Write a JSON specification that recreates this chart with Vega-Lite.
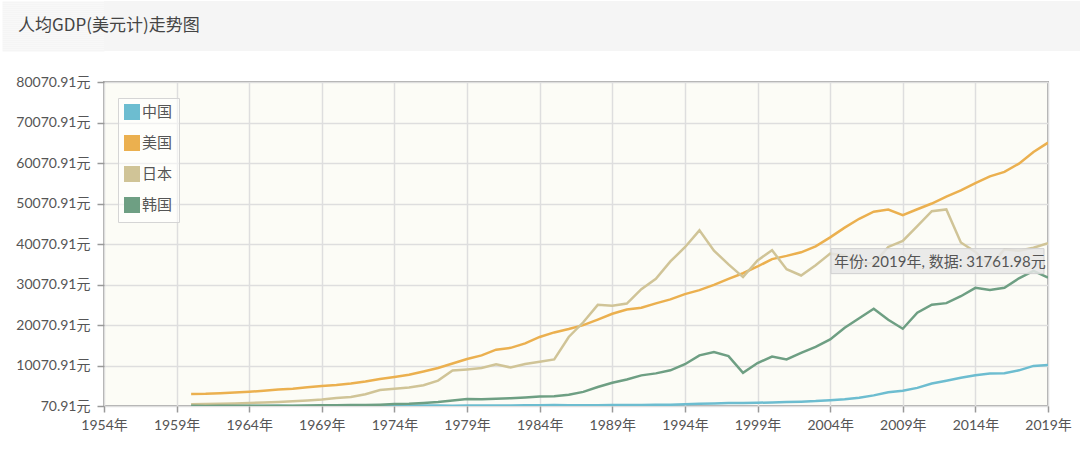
{
  "$schema": "https://vega.github.io/schema/vega-lite/v6.json",
  "padding": 0,
  "background": "white",
  "spacing": 22,
  "config": {"font": "Lato, Noto Sans CJK SC"},
  "datasets": {
    "gdp": [
      {"year": 1960, "中国": 89.52, "美国": 3007.12, "日本": 479.0, "韩国": 158.2},
      {"year": 1961, "中国": 75.81, "美国": 3066.56, "日本": 563.6, "韩国": 93.8},
      {"year": 1962, "中国": 70.91, "美国": 3243.84, "日本": 633.6, "韩国": 106.2},
      {"year": 1963, "中国": 74.31, "美国": 3374.52, "日本": 717.9, "韩国": 146.3},
      {"year": 1964, "中国": 85.5, "美国": 3573.94, "日本": 835.7, "韩国": 123.6},
      {"year": 1965, "中国": 98.49, "美国": 3827.53, "日本": 919.8, "韩国": 108.7},
      {"year": 1966, "中国": 104.32, "美国": 4146.32, "日本": 1058.5, "韩国": 133.5},
      {"year": 1967, "中国": 96.59, "美国": 4336.43, "日本": 1228.9, "韩国": 161.1},
      {"year": 1968, "中国": 91.47, "美国": 4695.92, "日本": 1450.6, "韩国": 198.5},
      {"year": 1969, "中国": 100.13, "美国": 5032.14, "日本": 1669.1, "韩国": 243.3},
      {"year": 1970, "中国": 113.16, "美国": 5234.3, "日本": 2037.6, "韩国": 279.1},
      {"year": 1971, "中国": 118.65, "美国": 5609.38, "日本": 2272.1, "韩国": 300.8},
      {"year": 1972, "中国": 131.88, "美国": 6094.02, "日本": 2967.0, "韩国": 323.9},
      {"year": 1973, "中国": 157.09, "美国": 6726.36, "日本": 3997.8, "韩国": 407.1},
      {"year": 1974, "中国": 160.14, "美国": 7225.69, "日本": 4353.8, "韩国": 563.3},
      {"year": 1975, "中国": 178.34, "美国": 7801.46, "日本": 4659.1, "韩国": 616.4},
      {"year": 1976, "中国": 165.41, "美国": 8592.25, "日本": 5197.8, "韩国": 834.1},
      {"year": 1977, "中国": 185.42, "美国": 9452.58, "日本": 6335.8, "韩国": 1055.9},
      {"year": 1978, "中国": 156.4, "美国": 10564.95, "日本": 8821.8, "韩国": 1399.8},
      {"year": 1979, "中国": 183.98, "美国": 11674.19, "日本": 9105.1, "韩国": 1783.9},
      {"year": 1980, "中国": 194.8, "美国": 12574.79, "日本": 9463.4, "韩国": 1715.4},
      {"year": 1981, "中国": 197.07, "美国": 13976.11, "日本": 10361.3, "韩国": 1883.5},
      {"year": 1982, "中国": 203.33, "美国": 14433.79, "日本": 9578.1, "韩国": 1992.6},
      {"year": 1983, "中国": 225.43, "美国": 15543.89, "日本": 10425.4, "韩国": 2198.9},
      {"year": 1984, "中国": 250.71, "美国": 17121.23, "日本": 10984.9, "韩国": 2413.3},
      {"year": 1985, "中国": 294.46, "美国": 18236.83, "日本": 11584.6, "韩国": 2482.4},
      {"year": 1986, "中国": 281.93, "美国": 19071.23, "日本": 17111.9, "韩国": 2834.9},
      {"year": 1987, "中国": 251.81, "美国": 20038.94, "日本": 20745.0, "韩国": 3554.6},
      {"year": 1988, "中国": 283.54, "美国": 21417.01, "日本": 25051.9, "韩国": 4748.6},
      {"year": 1989, "中国": 310.88, "美国": 22857.15, "日本": 24813.3, "韩国": 5817.0},
      {"year": 1990, "中国": 317.88, "美国": 23888.6, "日本": 25359.3, "韩国": 6610.0},
      {"year": 1991, "中国": 333.14, "美国": 24342.26, "日本": 28925.0, "韩国": 7637.1},
      {"year": 1992, "中国": 366.46, "美国": 25418.99, "日本": 31464.6, "韩国": 8126.7},
      {"year": 1993, "中国": 377.39, "美国": 26387.29, "日本": 35765.9, "韩国": 8884.9},
      {"year": 1994, "中国": 473.49, "美国": 27694.85, "日本": 39268.6, "韩国": 10385.3},
      {"year": 1995, "中国": 609.66, "美国": 28690.88, "日本": 43440.4, "韩国": 12564.8},
      {"year": 1996, "中国": 709.41, "美国": 29967.71, "日本": 38436.9, "韩国": 13403.0},
      {"year": 1997, "中国": 781.74, "美国": 31459.14, "日本": 35021.7, "韩国": 12398.5},
      {"year": 1998, "中国": 828.58, "美国": 32853.68, "日本": 31902.8, "韩国": 8281.7},
      {"year": 1999, "中国": 873.29, "美国": 34515.39, "日本": 36026.6, "韩国": 10672.4},
      {"year": 2000, "中国": 959.37, "美国": 36334.91, "日本": 38532.0, "韩国": 12256.9},
      {"year": 2001, "中国": 1053.11, "美国": 37133.24, "日本": 33846.5, "韩国": 11561.2},
      {"year": 2002, "中国": 1148.51, "美国": 38023.16, "日本": 32289.4, "韩国": 13165.1},
      {"year": 2003, "中国": 1288.64, "美国": 39496.49, "日本": 34808.4, "韩国": 14672.8},
      {"year": 2004, "中国": 1508.67, "美国": 41712.8, "日本": 37688.7, "韩国": 16496.1},
      {"year": 2005, "中国": 1753.42, "美国": 44114.75, "日本": 37217.6, "韩国": 19402.5},
      {"year": 2006, "中国": 2099.23, "美国": 46298.73, "日本": 35433.9, "韩国": 21743.5},
      {"year": 2007, "中国": 2693.97, "美国": 48050.22, "日本": 35275.2, "韩国": 24086.4},
      {"year": 2008, "中国": 3468.3, "美国": 48570.05, "日本": 39339.3, "韩国": 21350.4},
      {"year": 2009, "中国": 3832.24, "美国": 47194.94, "日本": 40855.2, "韩国": 19143.8},
      {"year": 2010, "中国": 4550.45, "美国": 48650.64, "日本": 44507.7, "韩国": 23087.2},
      {"year": 2011, "中国": 5618.13, "美国": 50065.97, "日本": 48168.0, "韩国": 25096.3},
      {"year": 2012, "中国": 6316.92, "美国": 51784.42, "日本": 48603.5, "韩国": 25466.8},
      {"year": 2013, "中国": 7050.65, "美国": 53291.13, "日本": 40454.4, "韩国": 27178.5},
      {"year": 2014, "中国": 7678.6, "美国": 55123.85, "日本": 38109.4, "韩国": 29253.2},
      {"year": 2015, "中国": 8066.94, "美国": 56762.73, "日本": 34524.5, "韩国": 28737.4},
      {"year": 2016, "中国": 8147.94, "美国": 57866.74, "日本": 38761.8, "韩国": 29274.2},
      {"year": 2017, "中国": 8879.44, "美国": 59914.78, "日本": 38386.5, "韩国": 31605.2},
      {"year": 2018, "中国": 9976.68, "美国": 62805.25, "日本": 39159.4, "韩国": 33447.2},
      {"year": 2019, "中国": 10216.63, "美国": 65094.8, "日本": 40246.9, "韩国": 31761.98}
    ],
    "tip": [
      {"year": 2019, "gdp": 31761.98, "label": "年份: 2019年, 数据: 31761.98元"}
    ]
  },
  "vconcat": [
    {
      "width": 977,
      "height": 50,
      "view": {"fill": "#f5f5f5", "stroke": null},
      "data": {"values": [{"title": "人均GDP(美元计)走势图"}]},
      "mark": {"type": "text", "align": "left", "baseline": "middle", "font": "Noto Sans CJK SC", "fontSize": 17, "color": "#444"},
      "encoding": {
        "text": {"field": "title", "type": "nominal"},
        "x": {"value": -86},
        "y": {
          "datum": 25, "type": "quantitative",
          "scale": {"domain": [0, 50], "nice": false, "zero": false},
          "axis": {"title": null, "values": [1, 3, 5, 7, 9, 11, 13, 15, 17, 19, 21, 23, 25, 27, 29, 31, 33, 35, 37, 39, 41, 43, 45, 47, 49], "labels": false, "domain": false, "grid": false, "ticks": true, "tickSize": 102, "tickWidth": 2.2, "tickColor": "#f5f5f5", "tickCap": "butt", "minExtent": 102}
        }
      }
    },
    {
      "width": 944,
      "height": 324,
      "view": {"fill": "#fcfcf6", "stroke": "#aaaaaa", "strokeWidth": 2},
      "layer": [
        {
          "data": {"name": "gdp"},
          "transform": [{"fold": ["中国", "美国", "日本", "韩国"], "as": ["country", "value"]}],
          "mark": {"type": "line", "strokeWidth": 2.5, "clip": true},
          "encoding": {
            "x": {
              "field": "year", "type": "quantitative",
              "scale": {"domain": [1954, 2019], "nice": false, "zero": false},
              "axis": {
                "title": null,
                "values": [1954, 1959, 1964, 1969, 1974, 1979, 1984, 1989, 1994, 1999, 2004, 2009, 2014, 2019],
                "labelExpr": "datum.value + '年'",
                "grid": true, "gridColor": "#dedede", "gridWidth": 1.5,
                "domain": false, "tickColor": "#999999", "tickSize": 6, "tickWidth": 1.5,
                "labelFontSize": 14, "labelColor": "#555555", "labelPadding": 6,
                "labelFlush": false, "labelOverlap": false
              }
            },
            "y": {
              "field": "value", "type": "quantitative",
              "scale": {"domain": [70.91, 80070.91], "nice": false, "zero": false},
              "axis": {
                "title": null,
                "values": [70.91, 10070.91, 20070.91, 30070.91, 40070.91, 50070.91, 60070.91, 70070.91, 80070.91],
                "labelExpr": "format(datum.value, '.2f') + '元'",
                "grid": true, "gridColor": "#dedede", "gridWidth": 1.5,
                "domain": false, "tickColor": "#999999", "tickSize": 7, "tickWidth": 1.5,
                "labelFontSize": 14, "labelColor": "#555555", "labelPadding": 7,
                "minExtent": 102
              }
            },
            "color": {
              "field": "country", "type": "nominal",
              "scale": {"domain": ["中国", "美国", "日本", "韩国"], "range": ["#6dbdd0", "#ebb04f", "#d0c497", "#6e9f83"]},
              "legend": {
                "title": null, "orient": "none", "legendX": 14, "legendY": 97, "padding": 6,
                "fillColor": "rgba(255,255,255,0.55)", "strokeColor": "#d5d5d5",
                "symbolType": "square", "symbolSize": 210, "symbolStrokeColor": "#d0d0d0", "symbolStrokeWidth": 1.5,
                "labelFontSize": 15, "labelColor": "#555555", "labelFont": "Noto Sans CJK SC",
                "rowPadding": 9, "labelOffset": 2,
                "encode": {"symbols": {"update": {"fill": {"scale": "color", "field": "value"}, "fillOpacity": {"value": 1}, "stroke": {"value": "#d0d0d0"}}}}
              }
            }
          }
        },
        {
          "data": {"name": "tip"},
          "mark": {"type": "rect", "xOffset": -217, "x2Offset": -4, "yOffset": -29, "y2Offset": -4, "fill": "#e6e6e6", "fillOpacity": 0.85, "stroke": "#d0d0d0", "strokeWidth": 1},
          "encoding": {
            "x": {"field": "year", "type": "quantitative"},
            "x2": {"field": "year"},
            "y": {"field": "gdp", "type": "quantitative"},
            "y2": {"field": "gdp"}
          }
        },
        {
          "data": {"name": "tip"},
          "mark": {"type": "text", "align": "left", "baseline": "middle", "dx": -214, "dy": -16, "fontSize": 15, "color": "#555555", "font": "Lato, Noto Sans CJK SC"},
          "encoding": {
            "x": {"field": "year", "type": "quantitative"},
            "y": {"field": "gdp", "type": "quantitative"},
            "text": {"field": "label", "type": "nominal"}
          }
        }
      ]
    }
  ]
}
